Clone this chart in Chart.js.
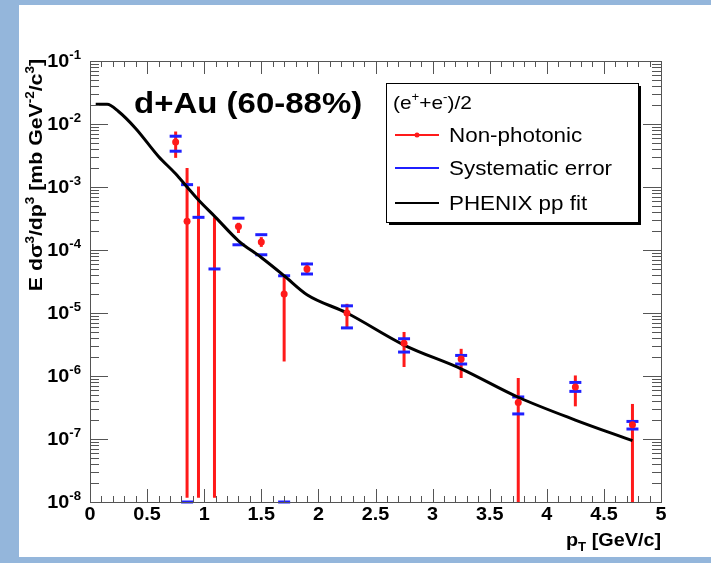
<!DOCTYPE html>
<html>
<head>
<meta charset="utf-8">
<script src="https://cdn.jsdelivr.net/npm/chart.js@4.4.1/dist/chart.umd.min.js"></script>
<style>
    body { margin: 0; background: #94b6db; width: 711px; height: 563px; overflow: hidden; }
    #panel { position: absolute; left: 19px; top: 5px; width: 692px; height: 552px; background: #fff; }
</style>
</head>
<body>
<div id="panel"><canvas id="spectrumChart" width="692" height="552"></canvas></div>
<script>
// datos
const ptValues = [0.75, 0.85, 0.95, 1.09, 1.3, 1.5, 1.7, 1.9, 2.25, 2.75, 3.25, 3.75, 4.25, 4.75];
const yieldValues = [5.2e-3, 2.85e-4, null, null, 2.37e-4, 1.34e-4, 2.0e-5, 5.0e-5, 1.0e-5, 3.3e-6, 1.86e-6, 3.8e-7, 6.7e-7, 1.69e-7];
const statHigh = [7.6e-3, 2.0e-3, 1.02e-3, 3.3e-4, 2.7e-4, 1.6e-4, 3.8e-5, 6.3e-5, 1.4e-5, 5.0e-6, 2.7e-6, 9.3e-7, 1.02e-6, 3.6e-7];
const statLow = [2.9e-3, 1.17e-8, 1.17e-8, 1.17e-8, 1.86e-4, 1.12e-4, 1.7e-6, 4.1e-5, 6.0e-6, 1.39e-6, 9.3e-7, 1e-8, 3.3e-7, 1e-8];
const sysHigh = [6.4e-3, 1.09e-3, 3.3e-4, 5.0e-5, 3.2e-4, 1.75e-4, 3.9e-5, 6.0e-5, 1.3e-5, 3.9e-6, 2.12e-6, 4.65e-7, 7.9e-7, 1.9e-7];
const sysLow = [3.7e-3, 1e-8, null, null, 1.21e-4, 8.4e-5, 1e-8, 4.16e-5, 5.8e-6, 2.4e-6, 1.55e-6, 2.5e-7, 5.7e-7, 1.44e-7];

const fitPt = [0.05, 0.15, 0.25, 0.4, 0.6, 0.75, 0.85, 0.95, 1.1, 1.3, 1.5, 1.7, 1.9, 2.25, 2.75, 3.25, 3.75, 4.25, 4.75];
const fitValues = [2.05e-2, 2.05e-2, 1.58e-2, 8.5e-3, 3.05e-3, 1.62e-3, 1.0e-3, 6.2e-4, 3.3e-4, 1.4e-4, 7.6e-5, 3.9e-5, 1.95e-5, 1.0e-5, 3.1e-6, 1.3e-6, 4.6e-7, 2.0e-7, 9.4e-8];

const xTickLabels = ['0', '0.5', '1', '1.5', '2', '2.5', '3', '3.5', '4', '4.5', '5'];
const yExponents = [-8, -7, -6, -5, -4, -3, -2, -1];

const FONT = '"Liberation Sans", Arial, sans-serif';
const RED = '#ff1a1a';
const BLUE = '#1f1fff';

function setFont(ctx, size, bold) {
    ctx.font = (bold ? 'bold ' : '') + size + 'px ' + FONT;
}

// texto con super/subindices: parts = [[texto, 'sup'|'sub'|'']]
function richWidth(ctx, parts, size, bold) {
    let w = 0;
    parts.forEach(p => {
        setFont(ctx, p[1] ? Math.round(size * 0.65) : size, bold);
        w += ctx.measureText(p[0]).width;
    });
    return w;
}

function drawRich(ctx, parts, x, y, size, bold, stretch, align, angle) {
    ctx.save();
    ctx.translate(x, y);
    if (angle) ctx.rotate(angle);
    ctx.scale(stretch, 1);
    let cx = 0;
    let w = richWidth(ctx, parts, size, bold);
    if (align === 'right') cx = -w;
    if (align === 'center') cx = -w / 2;
    ctx.textBaseline = 'alphabetic';
    ctx.textAlign = 'left';
    parts.forEach(p => {
        let s = p[1] ? Math.round(size * 0.65) : size;
        let dy = 0;
        if (p[1] === 'sup') dy = -size * 0.42;
        if (p[1] === 'sub') dy = size * 0.28;
        setFont(ctx, s, bold);
        ctx.fillText(p[0], cx, dy);
        cx += ctx.measureText(p[0]).width;
    });
    ctx.restore();
}

const rootStyle = {
    id: 'rootStyle',
    beforeDatasetsDraw(chart) {
        const ctx = chart.ctx;
        const xs = chart.scales.x;
        const ys = chart.scales.y;
        const area = chart.chartArea;
        ctx.save();
        ctx.beginPath();
        ctx.rect(area.left - 3, area.top, area.right - area.left + 6, area.bottom - area.top + 3);
        ctx.clip();
        ctx.lineWidth = 3;
        // barras estadisticas
        ctx.strokeStyle = RED;
        ptValues.forEach((pt, i) => {
            const px = xs.getPixelForValue(pt);
            ctx.beginPath();
            ctx.moveTo(px, ys.getPixelForValue(statLow[i]));
            ctx.lineTo(px, ys.getPixelForValue(statHigh[i]));
            ctx.stroke();
        });
        // error sistematico
        ctx.strokeStyle = BLUE;
        ptValues.forEach((pt, i) => {
            const px = xs.getPixelForValue(pt);
            [sysHigh[i], sysLow[i]].forEach(v => {
                if (v === null) return;
                const py = ys.getPixelForValue(v);
                ctx.beginPath();
                ctx.moveTo(px - 6, py);
                ctx.lineTo(px + 6, py);
                ctx.stroke();
            });
        });
        ctx.restore();
    },
    afterDraw(chart) {
        const ctx = chart.ctx;
        const xs = chart.scales.x;
        const ys = chart.scales.y;
        const a = chart.chartArea;
        ctx.save();
        // marco
        ctx.strokeStyle = '#555';
        ctx.lineWidth = 1;
        ctx.strokeRect(a.left + 0.5, a.top + 0.5, a.right - a.left, a.bottom - a.top);

        // ticks eje x
        ctx.beginPath();
        for (let k = 0; k <= 50; k++) {
            const px = Math.round(xs.getPixelForValue(k / 10)) + 0.5;
            const len = (k % 5 === 0) ? 13 : 6;
            ctx.moveTo(px, a.bottom);
            ctx.lineTo(px, a.bottom - len);
            ctx.moveTo(px, a.top);
            ctx.lineTo(px, a.top + len);
        }
        // ticks eje y (log)
        for (let e = -8; e <= -1; e++) {
            for (let m = 1; m <= 9; m++) {
                const v = m * Math.pow(10, e);
                if (v > 0.1 * 1.0001) continue;
                const py = Math.round(ys.getPixelForValue(v)) + 0.5;
                const len = (m === 1) ? 18 : 9;
                ctx.moveTo(a.left, py);
                ctx.lineTo(a.left + len, py);
                ctx.moveTo(a.right, py);
                ctx.lineTo(a.right - len, py);
            }
        }
        ctx.stroke();

        ctx.fillStyle = '#000';
        // etiquetas eje x
        xTickLabels.forEach(t => {
            const px = xs.getPixelForValue(parseFloat(t));
            drawRich(ctx, [[t, '']], px, a.bottom + 18, 18, true, 1.1, 'center');
        });
        drawRich(ctx, [['p', ''], ['T', 'sub'], [' [GeV/c]', '']], a.right, a.bottom + 44, 18, true, 1.1, 'right');

        // etiquetas eje y
        yExponents.forEach(e => {
            const py = ys.getPixelForValue(Math.pow(10, e));
            drawRich(ctx, [['10', ''], [String(e), 'sup']], a.left - 9, py + 6, 18, true, 1.1, 'right');
        });
        drawRich(ctx, [['E d\u03c3', ''], ['3', 'sup'], ['/dp', ''], ['3', 'sup'], [' [mb GeV', ''], ['-2', 'sup'], ['/c', ''], ['3', 'sup'], [']', '']],
            23, a.top - 2, 19, true, 1.12, 'right', -Math.PI / 2);

        // titulo
        drawRich(ctx, [['d+Au (60-88%)', '']], 115, 108, 30, true, 1.1, 'left');

        // leyenda
        const lx = 367, ly = 78, lw = 252, lh = 139;
        ctx.fillStyle = '#000';
        ctx.fillRect(lx + 3, ly + 3, lw, lh);
        ctx.fillStyle = '#fff';
        ctx.fillRect(lx, ly, lw, lh);
        ctx.strokeStyle = '#000';
        ctx.lineWidth = 1;
        ctx.strokeRect(lx + 0.5, ly + 0.5, lw, lh);
        ctx.fillStyle = '#000';
        drawRich(ctx, [['(e', ''], ['+', 'sup'], ['+e', ''], ['-', 'sup'], [')/2', '']], 374, 104, 19, false, 1.1, 'left');
        const rows = [
            { y: 130, color: RED, text: 'Non-photonic', dot: true },
            { y: 163, color: BLUE, text: 'Systematic error', dot: false },
            { y: 198, color: '#000', text: 'PHENIX pp fit', dot: false }
        ];
        rows.forEach(r => {
            ctx.strokeStyle = r.color;
            ctx.lineWidth = 2;
            ctx.beginPath();
            ctx.moveTo(376, r.y);
            ctx.lineTo(420, r.y);
            ctx.stroke();
            if (r.dot) {
                ctx.fillStyle = r.color;
                ctx.beginPath();
                ctx.arc(398, r.y, 2.5, 0, Math.PI * 2);
                ctx.fill();
            }
            ctx.fillStyle = '#000';
            drawRich(ctx, [[r.text, '']], 430, r.y + 7, 20, false, 1.12, 'left');
        });
        ctx.restore();
    }
};

const ctx = document.getElementById('spectrumChart').getContext('2d');
const myChart = new Chart(ctx, {
    data: {
        datasets: [{
            type: 'scatter',
            label: 'Non-photonic',
            data: ptValues.map((x, i) => ({ x: x, y: yieldValues[i] })).filter(p => p.y !== null),
            backgroundColor: RED,
            borderWidth: 0,
            pointRadius: 3.5,
            order: 0
        }, {
            type: 'line',
            label: 'PHENIX pp fit',
            data: fitPt.map((x, i) => ({ x: x, y: fitValues[i] })),
            borderColor: '#000',
            borderWidth: 3,
            pointRadius: 0,
            fill: false,
            cubicInterpolationMode: 'monotone',
            order: 1
        }]
    },
    options: {
        responsive: false,
        animation: false,
        devicePixelRatio: 1,
        layout: { padding: { left: 71, top: 56, right: 50, bottom: 55 } },
        plugins: {
            legend: { display: false },
            tooltip: { enabled: false }
        },
        scales: {
            x: { type: 'linear', min: 0, max: 5, display: false },
            y: { type: 'logarithmic', min: 1e-8, max: 1e-1, display: false }
        }
    },
    plugins: [rootStyle]
});
</script>
</body>
</html>
